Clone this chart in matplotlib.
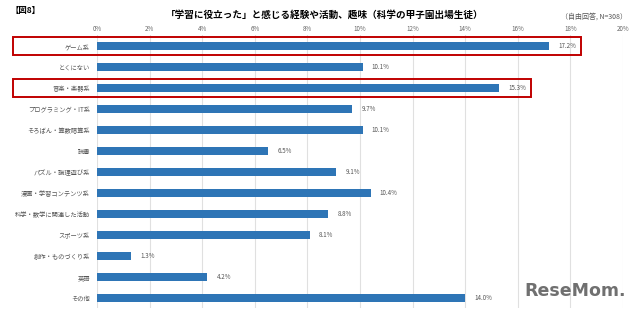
import matplotlib.pyplot as plt
from matplotlib.patches import Rectangle

plt.rcParams['font.family'] = ['Noto Sans CJK JP', 'DejaVu Sans']

categories = ['ゲーム系', 'とくにない', '音楽・楽器系', 'プログラミング・IT系',
              'そろばん・算数暗算系', '読書', 'パズル・論理遊び系', '漫画・学習コンテンツ系',
              '科学・数学に関連した活動', 'スポーツ系', '創作・ものづくり系', '英語', 'その他']
values = [17.2, 10.1, 15.3, 9.7, 10.1, 6.5, 9.1, 10.4, 8.8, 8.1, 1.3, 4.2, 14.0]
highlight = ['ゲーム系', '音楽・楽器系']
xticks = list(range(0, 21, 2))

fig = plt.figure(figsize=(6.4, 3.13), dpi=100)
ax = fig.add_axes([0.1516, 0.0144, 0.8218, 0.8722])

y = list(range(len(categories)))
ax.barh(y, values, height=0.4, color='#2E75B6', zorder=3)
for yi, v in zip(y, values):
    ax.text(v + 0.35, yi, f'{v:.1f}%', va='center', ha='left', fontsize=4.5, color='#555555')

for yi, cat, v in zip(y, categories, values):
    if cat in highlight:
        ax.add_patch(Rectangle((-3.2, yi - 0.42), v + 1.2 + 3.2, 0.84, fill=False,
                               edgecolor='#C00000', linewidth=1.4, clip_on=False, zorder=4))

ax.set_ylim(len(categories) - 0.5, -0.5)
ax.set_xlim(0, 20)
ax.set_yticks(y)
ax.set_yticklabels(categories, fontsize=4.5, color='#555555')
ax.set_xticks(xticks)
ax.set_xticklabels([f'{t}%' for t in xticks], fontsize=4.5, color='#666666')
ax.xaxis.tick_top()
ax.tick_params(length=0)
ax.tick_params(axis='x', pad=2)
ax.tick_params(axis='y', pad=5)
ax.grid(axis='x', color='#E0E0E0', linewidth=0.8, zorder=0)
for s in ax.spines.values():
    s.set_visible(False)

fig.text(0.016, 0.965, '【図8】', fontsize=6, fontweight='bold', va='center', ha='left')
fig.text(0.508, 0.952, '「学習に役立った」と感じる経験や活動、趣味（科学の甲子園出場生徒）',
         fontsize=6.9, fontweight='bold', va='center', ha='center')
fig.text(0.98, 0.948, '（自由回答, N=308）', fontsize=5, color='#555555', va='center', ha='right')
fig.text(0.978, 0.07, 'ReseMom.', fontsize=12.5, fontweight='bold', color='#707070',
         ha='right', va='center', family='DejaVu Sans')

fig.savefig('out.png', dpi=100)
